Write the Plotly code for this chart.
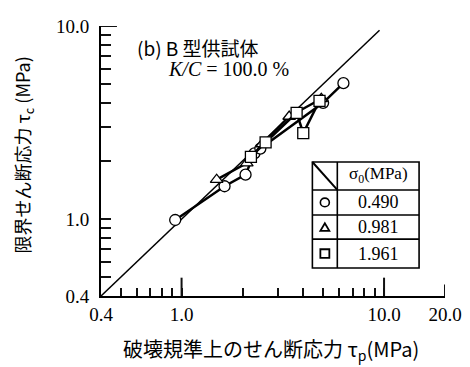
import plotly.graph_objects as go

# ---- data ----
x_0490 = [0.93, 1.63, 2.07, 2.29, 2.45, 5.0, 6.3]
y_0490 = [0.99, 1.48, 1.70, 2.19, 2.32, 4.0, 5.06]
x_0981 = [1.49, 2.10, 2.50, 3.40, 4.90]
y_0981 = [1.60, 1.95, 2.45, 3.40, 4.20]
x_1961 = [2.20, 2.60, 3.70, 3.99, 4.80]
y_1961 = [2.10, 2.50, 3.55, 2.79, 4.10]
ref_line = [0.4, 9.5]
legend_labels = ["0.490", "0.981", "1.961"]
major_labels = {0.4: "0.4", 1: "1.0", 10: "10.0", 20: "20.0"}
x_tickvals = [0.4, 0.5, 0.6, 0.7, 0.8, 0.9, 1, 2, 3, 4, 5, 6, 7, 8, 9, 10, 20]
y_tickvals = [0.4, 0.5, 0.6, 0.7, 0.8, 0.9, 1, 2, 3, 4, 5, 6, 7, 8, 9, 10]
long_ticks = [1, 10]
mid_ticks = [20]
y_long_ticks = [10]

OFF = 8  # page body margin
W, H = 470 - OFF, 367 - OFF
L, R, T, B = 101 - OFF, 24, 16 - OFF, 71
PW, PH = W - L - R, H - T - B

def px(xp):  # screen pixel -> paper
    return (xp - OFF - L) / PW

def py(yp):
    return (H + OFF - B - yp) / PH

FONT = "Liberation Serif"
JFONT = "Noto Sans CJK JP"
TICK = "#111111"

fig = go.Figure()

fig.add_trace(go.Scatter(x=ref_line, y=ref_line, mode="lines",
                         line=dict(color="black", width=1.5), showlegend=False))

series = [(x_0490, y_0490, "circle"), (x_0981, y_0981, "triangle-up"), (x_1961, y_1961, "square")]
for xs, ys, sym in series:
    pts = sorted(zip(xs, ys))
    fig.add_trace(go.Scatter(
        x=[p[0] for p in pts], y=[p[1] for p in pts], mode="lines+markers",
        line=dict(color="black", width=2.5),
        marker=dict(symbol=sym, size=11, color="white", line=dict(color="black", width=1.3)),
        showlegend=False))

# longer ticks on axes
for v in long_ticks:
    fig.add_shape(type="line", xref="x", yref="paper", x0=v, x1=v, y0=0, y1=19 / PH,
                  line=dict(color=TICK, width=2))
for v in mid_ticks:
    fig.add_shape(type="line", xref="x", yref="paper", x0=v, x1=v, y0=0, y1=12 / PH,
                  line=dict(color=TICK, width=2))
for v in y_long_ticks:
    fig.add_shape(type="line", xref="paper", yref="y", x0=0, x1=16 / PW, y0=v, y1=v,
                  line=dict(color=TICK, width=2))

# legend table
tx0, tx1, tx2 = px(313), px(338), px(420)
rows = [157, 186, 212, 237, 267]
lw = 1.6
fig.add_shape(type="rect", xref="paper", yref="paper", x0=tx0, x1=tx2,
              y0=py(rows[-1]), y1=py(rows[0]), line=dict(color="black", width=lw))
fig.add_shape(type="line", xref="paper", yref="paper", x0=tx1, x1=tx1,
              y0=py(rows[-1]), y1=py(rows[0]), line=dict(color="black", width=lw))
for r in rows[1:-1]:
    fig.add_shape(type="line", xref="paper", yref="paper", x0=tx0, x1=tx2,
                  y0=py(r), y1=py(r), line=dict(color="black", width=lw))
fig.add_shape(type="line", xref="paper", yref="paper", x0=tx0, x1=tx1,
              y0=py(rows[0]), y1=py(rows[1]), line=dict(color="black", width=2))

cx = 325.5
centers = [(rows[i] + rows[i + 1]) / 2 for i in range(1, 4)]
s = 4.5
c = centers[0]
fig.add_shape(type="circle", xref="paper", yref="paper",
              x0=px(cx - s), x1=px(cx + s), y0=py(c + s), y1=py(c - s),
              line=dict(color="black", width=1.6))
c = centers[1]
fig.add_shape(type="path", xref="paper", yref="paper",
              path=f"M {px(cx - s)} {py(c + s - 0.5)} L {px(cx + s)} {py(c + s - 0.5)} L {px(cx)} {py(c - s + 0.5)} Z",
              line=dict(color="black", width=1.8))
c = centers[2]
fig.add_shape(type="rect", xref="paper", yref="paper",
              x0=px(cx - s), x1=px(cx + s), y0=py(c + s), y1=py(c - s),
              line=dict(color="black", width=1.8))

def ann(x, y, text, fam, size, anchor="center", angle=0):
    fig.add_annotation(xref="paper", yref="paper", x=px(x), y=py(y), xanchor=anchor,
                       yanchor="middle", text=text, showarrow=False, textangle=angle,
                       font=dict(family=fam, size=size, color="black"))

ann(379, 171, "σ<sub>0</sub>(MPa)", FONT, 17)
for lab, c in zip(legend_labels, centers):
    ann(379, c, lab, FONT, 18)
ann(135, 38, "(b) B 型供試体", JFONT, 19, anchor="left")
ann(166, 61, "<i>K/C</i> = 100.0 %", FONT, 20, anchor="left")
ann(271, 351, "破壊規準上のせん断応力 τ<sub>p</sub>(MPa)", JFONT, 20)
ann(23, 150, "限界せん断応力 τ<sub>c</sub> (MPa)", JFONT, 18, angle=-90)

fig.update_layout(
    width=W, height=H, autosize=False,
    margin=dict(l=L, r=R, t=T, b=B),
    paper_bgcolor="white", plot_bgcolor="white",
    font=dict(family=FONT, size=18, color="black"),
)
fig.update_xaxes(type="log", range=[-0.39794, 1.30103], showgrid=False, zeroline=False,
                 showline=True, linecolor="black", linewidth=2,
                 tickmode="array", tickvals=x_tickvals,
                 ticktext=[major_labels.get(v, "") for v in x_tickvals],
                 ticks="inside", ticklen=8, tickwidth=2, tickcolor=TICK,
                 ticklabeloverflow="allow",
                 tickfont=dict(family=FONT, size=19, color="black"))
fig.update_yaxes(type="log", range=[-0.39794, 1.0], showgrid=False, zeroline=False,
                 showline=True, linecolor="black", linewidth=2,
                 tickmode="array", tickvals=y_tickvals,
                 ticktext=[major_labels.get(v, "") for v in y_tickvals],
                 ticks="inside", ticklen=10, tickwidth=2, tickcolor=TICK,
                 ticklabeloverflow="allow", ticklabelstandoff=6,
                 tickfont=dict(family=FONT, size=19, color="black"))

fig.write_html("out.html")
